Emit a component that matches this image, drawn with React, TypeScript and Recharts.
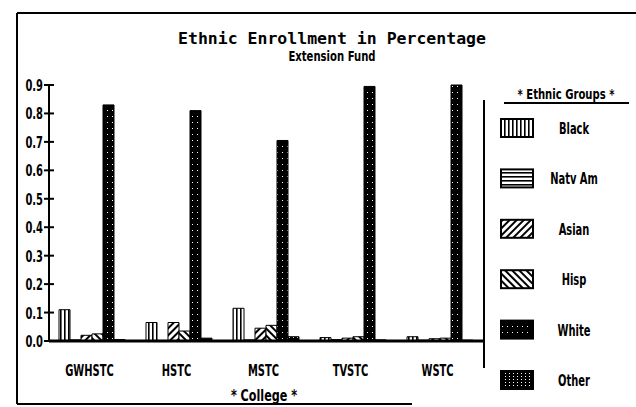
import React from 'react';
import { BarChart, Bar, XAxis, YAxis } from 'recharts';

const colleges = ['GWHSTC', 'HSTC', 'MSTC', 'TVSTC', 'WSTC'];
const blackPct = [0.11, 0.065, 0.115, 0.012, 0.015];
const natvAmPct = [0.004, 0.002, 0.004, 0.005, 0.003];
const asianPct = [0.02, 0.065, 0.045, 0.01, 0.008];
const hispPct = [0.025, 0.035, 0.055, 0.015, 0.01];
const whitePct = [0.83, 0.81, 0.705, 0.895, 0.9];
const otherPct = [0.005, 0.01, 0.015, 0.004, 0.003];
const yTicks = [0, 0.1, 0.2, 0.3, 0.4, 0.5, 0.6, 0.7, 0.8, 0.9];

const series = [
  { key: 'Black', values: blackPct, fill: 'url(#pBlack)' },
  { key: 'Natv Am', values: natvAmPct, fill: 'url(#pNatv)' },
  { key: 'Asian', values: asianPct, fill: 'url(#pAsian)' },
  { key: 'Hisp', values: hispPct, fill: 'url(#pHisp)' },
  { key: 'White', values: whitePct, fill: 'url(#pWhite)' },
  { key: 'Other', values: otherPct, fill: 'url(#pOther)' },
];

const chartData = colleges.map((name, i) => {
  const row: Record<string, any> = { name };
  series.forEach((s) => (row[s.key] = s.values[i]));
  return row;
});

const SANS = '"DejaVu Sans", "Noto Sans", sans-serif';
const MONO = '"DejaVu Sans Mono", "Liberation Mono", monospace';
const AXIS_X = 49;

// squeezed bold text, the old plotter font is tall and narrow
const NText = ({ x, y, anchor = 'middle', size = 16, sx = 0.62, children }: any) => (
  <text
    transform={`translate(${x},${y}) scale(${sx},1)`}
    textAnchor={anchor}
    fontFamily={SANS}
    fontWeight="bold"
    fontSize={size}
    fill="#000"
  >
    {children}
  </text>
);

const YTick = ({ y, payload }: any) => (
  <g>
    <line x1={AXIS_X - 5} x2={AXIS_X + 5} y1={y} y2={y} stroke="#000" strokeWidth={2} />
    <NText x={AXIS_X - 6} y={y + 6} anchor="end">
      {Number(payload.value).toFixed(1)}
    </NText>
  </g>
);

const XTick = ({ x, payload }: any) => (
  <NText x={x - 3} y={376}>
    {payload.value}
  </NText>
);

export default function App() {
  return (
    <div style={{ position: 'absolute', left: 0, top: 0, width: 636, height: 407, background: '#fff' }}>
      <BarChart
        width={636}
        height={407}
        data={chartData}
        margin={{ top: 85, right: 152, bottom: 36, left: 19 }}
        barCategoryGap={10}
        barGap={0}
      >
        <XAxis
          dataKey="name"
          height={30}
          tickLine={false}
          axisLine={{ stroke: '#000', strokeWidth: 3 }}
          tick={<XTick />}
          interval={0}
        />
        <YAxis
          width={30}
          domain={[0, 0.9]}
          ticks={yTicks}
          tickLine={false}
          axisLine={{ stroke: '#000', strokeWidth: 2 }}
          tick={<YTick />}
        />
        {series.map((s) => (
          <Bar key={s.key} dataKey={s.key} fill={s.fill} stroke="#000" strokeWidth={1} isAnimationActive={false} />
        ))}
      </BarChart>

      <svg width={636} height={407} style={{ position: 'absolute', left: 0, top: 0, pointerEvents: 'none' }}>
        <defs>
          <pattern id="pBlack" patternUnits="userSpaceOnUse" width={4} height={4}>
            <rect width={4} height={4} fill="#fff" />
            <rect width={1.6} height={4} fill="#000" />
          </pattern>
          <pattern id="pNatv" patternUnits="userSpaceOnUse" width={4} height={4}>
            <rect width={4} height={4} fill="#fff" />
            <rect width={4} height={1.6} fill="#000" />
          </pattern>
          <pattern id="pAsian" patternUnits="userSpaceOnUse" width={5} height={5} patternTransform="rotate(45)">
            <rect width={5} height={5} fill="#fff" />
            <rect width={2} height={5} fill="#000" />
          </pattern>
          <pattern id="pHisp" patternUnits="userSpaceOnUse" width={5} height={5} patternTransform="rotate(-45)">
            <rect width={5} height={5} fill="#fff" />
            <rect width={2} height={5} fill="#000" />
          </pattern>
          <pattern id="pWhite" patternUnits="userSpaceOnUse" width={5} height={6}>
            <rect width={5} height={6} fill="#000" />
            <rect x={2} y={2} width={1} height={1} fill="#fff" />
          </pattern>
          <pattern id="pOther" patternUnits="userSpaceOnUse" width={4} height={3}>
            <rect width={4} height={3} fill="#000" />
            <rect x={1} y={1} width={1} height={1} fill="#fff" />
          </pattern>
        </defs>

        {/* frame */}
        <line x1={17} y1={13} x2={636} y2={13} stroke="#000" strokeWidth={2} />
        <line x1={17} y1={13} x2={17} y2={404} stroke="#000" strokeWidth={2} />
        <line x1={17} y1={404} x2={412} y2={404} stroke="#000" strokeWidth={2} />
        <line x1={484} y1={100} x2={484} y2={368} stroke="#000" strokeWidth={2} />

        <text x={332} y={44} textAnchor="middle" fontFamily={MONO} fontWeight="bold" fontSize={16.5} fill="#000">
          Ethnic Enrollment in Percentage
        </text>
        <NText x={332} y={61} size={14} sx={0.72}>
          Extension Fund
        </NText>
        <NText x={264} y={401} sx={0.7}>
          * College *
        </NText>

        {/* legend */}
        <NText x={566} y={99} size={14} sx={0.72}>
          * Ethnic Groups *
        </NText>
        <line x1={504} y1={103} x2={629} y2={103} stroke="#000" strokeWidth={2} />
        {series.map((s, i) => {
          const top = 119 + i * 50.4;
          return (
            <g key={s.key}>
              <rect x={501} y={top} width={32} height={18} fill={s.fill} stroke="#000" strokeWidth={2} />
              <NText x={574} y={top + 15}>
                {s.key}
              </NText>
            </g>
          );
        })}
      </svg>
    </div>
  );
}
